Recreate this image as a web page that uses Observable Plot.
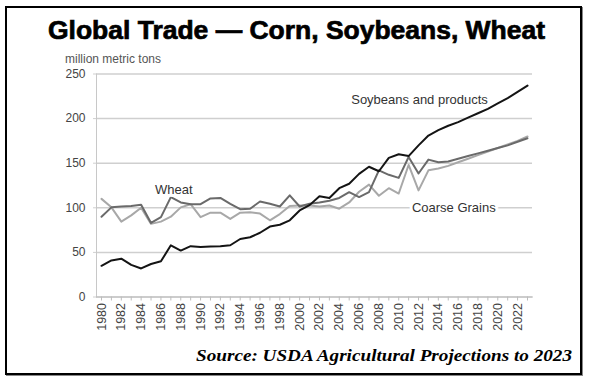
<!DOCTYPE html>
<html><head><meta charset="utf-8">
<script src="https://cdn.jsdelivr.net/npm/d3@7"></script>
<script src="https://cdn.jsdelivr.net/npm/@observablehq/plot@0.6"></script>
<style>
html,body{margin:0;padding:0;background:#fff;}
#wrap{position:relative;width:593px;height:382px;overflow:hidden;background:#fff;}
#box{position:absolute;left:5px;top:6px;width:573px;height:365px;border:2px solid #000;box-shadow:1px 1px 0 #888;}
#title{position:absolute;left:48px;top:18.3px;font-family:"Liberation Sans",Arial,sans-serif;font-weight:bold;font-size:25.5px;line-height:25px;white-space:nowrap;color:#000;-webkit-text-stroke:0.7px #000;transform-origin:0 50%;}
#unit{position:absolute;left:65px;top:52.8px;font-family:"Liberation Sans",Arial,sans-serif;font-size:12px;line-height:12px;color:#555;white-space:nowrap;}
#source{position:absolute;left:196px;top:347px;font-family:"Liberation Serif","Times New Roman",serif;font-weight:bold;font-style:italic;font-size:17px;line-height:17px;white-space:nowrap;color:#000;transform-origin:0 50%;}
#chart{position:absolute;left:0;top:0;}
</style></head>
<body>
<div id="wrap">
  <div id="box"></div>
  <div id="chart"></div>
  <div id="title">Global Trade — Corn, Soybeans, Wheat</div>
  <div id="unit">million metric tons</div>
  <div id="source">Source: USDA Agricultural Projections to 2023</div>
</div>
<script>
const years = [1980,1981,1982,1983,1984,1985,1986,1987,1988,1989,1990,1991,1992,1993,1994,1995,1996,1997,1998,1999,2000,2001,2002,2003,2004,2005,2006,2007,2008,2009,2010,2011,2012,2013,2014,2015,2016,2017,2018,2019,2020,2021,2022,2023];
const soybeans = [35,41,43,36,32,37,40,58,52,57,56,56.5,57,58,65,67,72,79,81,86,97,103,113,111,122,127,138,146,141,156,160,158,170,181,187,192,196,201,206,211,217,223,230,237];
const wheat = [90,100.5,101.5,102,103.5,83,89.5,112,106,104,104,110.5,111,104.5,98.5,99,107,104.5,101.5,114,101.5,104.5,106,108,111,117.5,112,117.5,142,137,133.5,157,138.5,154,151,152,155,158,161,164,167,170,174,178];
const coarseGrains = [110,100.5,84.5,91.5,100,82,84.5,90,100.5,104,89.5,94.5,94.5,87.5,94.5,95,93.5,86,93,102,102.5,102.5,101.5,102.5,99,106,118,126,113.5,122,116,148,119.5,142,144,147,151,155,159,163,167,171,175,180];
const seriesNames = ["Coarse Grains","Wheat","Soybeans and products"];
const yTicks = [0,50,100,150,200,250];
const xLabelYears = [1980,1982,1984,1986,1988,1990,1992,1994,1996,1998,2000,2002,2004,2006,2008,2010,2012,2014,2016,2018,2020,2022];
const labelNames = ["Soybeans and products","Wheat","Coarse Grains"];
const labelYears = [2012.1,1987.3,2015.56];
const labelValues = [221.4,120,100.5];

const rows = years.flatMap((yr,i)=>[
  {series:"Coarse Grains", year:yr, value:coarseGrains[i]},
  {series:"Wheat", year:yr, value:wheat[i]},
  {series:"Soybeans and products", year:yr, value:soybeans[i]}
]);
const labels = labelNames.map((n,i)=>({text:n, year:labelYears[i], value:labelValues[i]}));

const chart = Plot.plot({
  width: 593,
  height: 382,
  marginTop: 73.5,
  marginBottom: 85.5,
  marginLeft: 96,
  marginRight: 61,
  style: {fontFamily: "'Liberation Sans', Arial, sans-serif", fontSize: "12px", background: "transparent", overflow: "visible"},
  x: {type: "linear", domain: [1980, 2023], insetLeft: 5, insetRight: 5},
  y: {domain: [0, 250]},
  color: {domain: seriesNames, range: ["#a8a8a8", "#6a6a6a", "#141414"]},
  marks: [
    Plot.ruleY(yTicks, {stroke: "#cfcfcf", strokeWidth: 1.5}),
    Plot.frame({anchor: "left", stroke: "#c8c8c8", strokeWidth: 1}),
    Plot.frame({anchor: "bottom", stroke: "#bdbdbd", strokeWidth: 1}),
    Plot.axisY({ticks: yTicks, tickSize: 3, tickPadding: 8, stroke: "#cfcfcf", fill: "#444", fontSize: 12, label: null}),
    Plot.axisX({ticks: years, tickSize: 4, stroke: "#bdbdbd", text: null, label: null}),
    Plot.axisX({ticks: xLabelYears, tickSize: 0, tickPadding: 6, tickRotate: -90, tickFormat: d => String(d), fill: "#444", fontSize: 12.5, label: null}),
    Plot.line(rows, {x: "year", y: "value", z: "series", stroke: "series", strokeWidth: 2, strokeLinejoin: "round"}),
    Plot.text(labels, {x: "year", y: "value", text: "text", fill: "#333", fontSize: 13, stroke: "white", strokeWidth: 6, paintOrder: "stroke"})
  ]
});
document.getElementById("chart").appendChild(chart);

function fit(id, target){
  const el = document.getElementById(id);
  const w = el.getBoundingClientRect().width;
  if (w > 0) el.style.transform = `scaleX(${target / w})`;
}
fit("title", 497);
fit("source", 376);
</script>
</body></html>
